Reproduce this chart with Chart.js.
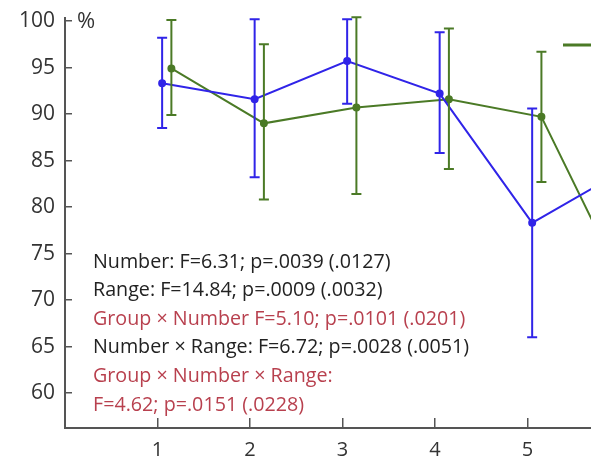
<!DOCTYPE html>
<html>
<head>
<meta charset="utf-8">
<script src="https://cdn.jsdelivr.net/npm/chart.js@4"></script>
<style>
  html, body { margin: 0; padding: 0; background: #fff; overflow: hidden; }
  body { width: 591px; height: 462px; position: relative; }
  /* the figure is a crop: let the canvas run a little past the window */
  #wrap { position: absolute; left: 0; top: -12px; width: 597px; height: 474px; }
</style>
</head>
<body>
<div id="wrap"><canvas id="accuracyChart"></canvas></div>
<script>
// Data (session number -> % correct)
const sessions = [1, 2, 3, 4, 5, 6];
const xTicks = [1, 2, 3, 4, 5];
const yTicks = [60, 65, 70, 75, 80, 85, 90, 95, 100];

const blueMean = [93.3, 91.6, 95.7, 92.2, 78.3, 84.0];
const blueLow  = [88.5, 83.2, 91.1, 85.8, 66.0, 78.0];
const blueHigh = [98.2, 100.2, 100.2, 98.8, 90.6, 90.0];

const greenMean = [94.9, 89.0, 90.7, 91.6, 89.7, 69.4];
const greenLow  = [89.9, 80.8, 81.4, 84.1, 82.7, 62.0];
const greenHigh = [100.1, 97.5, 100.4, 99.2, 96.7, 76.0];

const statLines = [
    "Number: F=6.31; p=.0039 (.0127)",
    "Range: F=14.84; p=.0009 (.0032)",
    "Group \u00d7 Number F=5.10; p=.0101 (.0201)",
    "Number \u00d7 Range: F=6.72; p=.0028 (.0051)",
    "Group \u00d7 Number \u00d7 Range:",
    "F=4.62; p=.0151 (.0228)"
];
const statColors = ["#222", "#222", "#b8404e", "#222", "#b8404e", "#b8404e"];

const BLUE = "#3024e8";
const GREEN = "#4b7a26";

function points(values, shift) {
    return sessions.map((s, i) => ({ x: s + shift, y: values[i] }));
}

// error bars, % label, legend stub and the statistics text
const extras = {
    id: "extras",
    afterDatasetsDraw(chart) {
        const { ctx, scales: { x, y }, chartArea } = chart;

        ctx.save();
        ctx.beginPath();
        ctx.rect(0, 0, chartArea.right, chart.height);
        ctx.clip();

        chart.data.datasets.forEach((ds) => {
            ctx.strokeStyle = ds.borderColor;
            ctx.lineWidth = 2;
            ds.data.forEach((p, i) => {
                const px = x.getPixelForValue(p.x);
                const top = y.getPixelForValue(ds.high[i]);
                const bot = y.getPixelForValue(ds.low[i]);
                ctx.beginPath();
                ctx.moveTo(px, top);
                ctx.lineTo(px, bot);
                ctx.moveTo(px - 5, top);
                ctx.lineTo(px + 5, top);
                ctx.moveTo(px - 5, bot);
                ctx.lineTo(px + 5, bot);
                ctx.stroke();
            });
        });
        ctx.restore();

        // canvas sits 12px above the window
        const off = 12;

        ctx.save();
        ctx.fillStyle = "#333";
        ctx.font = "22px 'Open Sans'";
        ctx.textBaseline = "middle";
        ctx.fillText("%", chartArea.left + 12, chartArea.top + 4);

        // legend sample of the second series (cut off at the right edge)
        ctx.strokeStyle = GREEN;
        ctx.lineWidth = 3;
        ctx.beginPath();
        ctx.moveTo(563, 45 + off);
        ctx.lineTo(chart.width + 10, 45 + off);
        ctx.stroke();

        ctx.font = "19.7px 'Open Sans'";
        statLines.forEach((line, i) => {
            ctx.fillStyle = statColors[i];
            ctx.fillText(line, 93, 262 + off + i * 28.6);
        });
        ctx.restore();
    }
};

const ctx = document.getElementById("accuracyChart");

new Chart(ctx, {
    type: "line",

    data: {
        datasets: [
            {
                label: "Group A",
                data: points(blueMean, 0.05),
                low: blueLow,
                high: blueHigh,
                borderColor: BLUE,
                backgroundColor: BLUE,
                borderWidth: 2,
                pointRadius: 3,
                tension: 0
            },
            {
                label: "Group B",
                data: points(greenMean, 0.15),
                low: greenLow,
                high: greenHigh,
                borderColor: GREEN,
                backgroundColor: GREEN,
                borderWidth: 2,
                pointRadius: 3,
                tension: 0
            }
        ]
    },

    options: {
        responsive: true,
        maintainAspectRatio: false,
        animation: false,

        layout: {
            padding: { top: 8, right: 0, left: 0, bottom: 0 }
        },

        plugins: {
            legend: { display: false },
            tooltip: { enabled: false }
        },

        scales: {
            x: {
                type: "linear",
                min: 0,
                max: 5.686,
                afterBuildTicks: (scale) => {
                    scale.ticks = xTicks.map((v) => ({ value: v }));
                },
                afterFit: (scale) => { scale.height = 34; },
                grid: {
                    drawOnChartArea: false,
                    tickLength: -10,
                    color: "#555",
                    lineWidth: 1.5
                },
                border: { color: "#555", width: 2 },
                ticks: {
                    padding: 20,
                    color: "#333",
                    font: { family: "'Open Sans'", size: 20 }
                }
            },

            y: {
                min: 56.24,
                max: 100.37,
                afterBuildTicks: (scale) => {
                    scale.ticks = yTicks.map((v) => ({ value: v }));
                },
                afterFit: (scale) => { scale.width = 65; },
                grid: {
                    drawOnChartArea: false,
                    tickLength: -7,
                    color: "#555",
                    lineWidth: 1.5
                },
                border: { color: "#555", width: 2 },
                ticks: {
                    padding: 17,
                    color: "#333",
                    font: { family: "'Open Sans'", size: 21 }
                }
            }
        }
    },

    plugins: [extras]
});
</script>
</body>
</html>
